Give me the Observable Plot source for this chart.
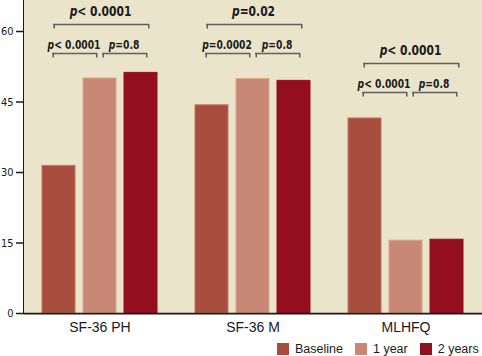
<!DOCTYPE html>
<html><head><meta charset="utf-8">
<script src="https://cdn.jsdelivr.net/npm/d3@7"></script>
<script src="https://cdn.jsdelivr.net/npm/@observablehq/plot@0.6"></script>
<style>
body{margin:0;background:#fff;}
#wrap{position:relative;width:482px;height:356px;overflow:hidden;background:#fff;}
#bg{position:absolute;left:23px;top:0;width:459px;height:313px;background:#EAE4CA;}
#chart{position:absolute;left:0;top:0;}
#legend{position:absolute;left:277px;top:332px;width:260px;white-space:nowrap;}
</style></head><body><div id="wrap"><div id="bg"></div><div id="chart"></div><div id="legend"></div></div>
<script>
// ---- data ----
const groups = ["SF-36 PH", "SF-36 M", "MLHFQ"];
const series = ["Baseline", "1 year", "2 years"];
const baselineValues = [31.4, 44.3, 41.5];
const year1Values = [50.0, 49.9, 15.5];
const year2Values = [51.2, 49.5, 15.7];
const yTicks = [0, 15, 30, 45, 60];

const bracketGroup = ["SF-36 PH", "SF-36 PH", "SF-36 PH", "SF-36 M", "SF-36 M", "SF-36 M", "MLHFQ", "MLHFQ", "MLHFQ"];
const bracketKind = ["top", "left", "right", "top", "left", "right", "top", "left", "right"];
const bracketFrom = ["Baseline", "Baseline", "1 year", "Baseline", "Baseline", "1 year", "Baseline", "Baseline", "1 year"];
const bracketTo = ["2 years", "1 year", "2 years", "2 years", "1 year", "2 years", "2 years", "1 year", "2 years"];
const bracketLevel = [61.5, 55.3, 55.3, 61.5, 55.3, 55.3, 53.2, 47.0, 47.0];
const bracketLabel = ["p< 0.0001", "p< 0.0001", "p=0.8", "p=0.02", "p=0.0002", "p=0.8", "p< 0.0001", "p< 0.0001", "p=0.8"];

// ---- styles ----
const colors = ["#A84D3D", "#C88875", "#930F1F"];
const rims = ["#C27866", "#DBA692", "#930F1F"];
const kindStyle = {
  top: {l: 11, r: 8, k: 2, size: 14, gap: 8},
  left: {l: 10, r: 19, k: 1, size: 12, gap: 4.5},
  right: {l: 19, r: 10, k: 1, size: 12, gap: 4.5}
};
const groupShift = {"SF-36 PH": 0, "SF-36 M": 0, "MLHFQ": 4};
const halfBand = 16.5, step = 41, condense = 0.85;

const bars = [];
groups.forEach((g, i) => {
  bars.push({group: g, series: series[0], value: baselineValues[i]});
  bars.push({group: g, series: series[1], value: year1Values[i]});
  bars.push({group: g, series: series[2], value: year2Values[i]});
});
const brackets = bracketGroup.map((g, i) => ({
  group: g, kind: bracketKind[i], from: bracketFrom[i], to: bracketTo[i],
  level: bracketLevel[i], label: bracketLabel[i]
}));

const labelFont = "'DejaVu Sans Condensed', 'Liberation Sans Narrow', sans-serif";
const bracketMarks = [];
for (const kind of ["top", "left", "right"]) {
  for (const shift of [0, 4]) {
    const s = kindStyle[kind];
    const data = brackets.filter(d => d.kind === kind && groupShift[d.group] === shift);
    if (!data.length) continue;
    bracketMarks.push(
      Plot.ruleY(data, {fx: "group", x1: "from", x2: "to", y: "level", insetLeft: s.l, insetRight: s.r, dx: shift, stroke: "#5f5f5f", strokeWidth: 1.5}),
      Plot.ruleX(data, {fx: "group", x: "from", y1: "level", y2: "level", insetBottom: -4.5, dx: shift + s.l - halfBand + 0.75, stroke: "#5f5f5f", strokeWidth: 1.5}),
      Plot.ruleX(data, {fx: "group", x: "to", y1: "level", y2: "level", insetBottom: -4.5, dx: shift + halfBand - s.r - 0.75, stroke: "#5f5f5f", strokeWidth: 1.5}),
      Plot.text(data, {fx: "group", x: "from", y: "level", text: "label", lineAnchor: "bottom", dy: -s.gap,
        dx: shift + (step * s.k + s.l - s.r) / 2 - 1, fontSize: s.size, fontWeight: "bold", fontFamily: labelFont, fill: "#1a1a1a"})
    );
  }
}

const chart = Plot.plot({
  width: 482,
  height: 336,
  marginLeft: 23,
  marginRight: 0,
  marginTop: 0,
  marginBottom: 23,
  style: {background: "transparent", color: "#1a1a1a", fontFamily: "'Liberation Sans', Arial, sans-serif"},
  fx: {domain: groups, padding: 0, axis: "bottom", label: null, tickSize: 0, tickPadding: 9, fontSize: 14},
  x: {domain: series, paddingInner: 0.195, paddingOuter: 0.46, axis: null},
  y: {domain: [0, 66.6], ticks: yTicks, tickSize: 7, tickPadding: 3, label: null, line: true},
  color: {domain: series, range: colors},
  marks: [
    Plot.barY(bars, {fx: "group", x: "series", y: "value", fill: "series", stroke: d => rims[series.indexOf(d.series)], strokeWidth: 1}),
    Plot.ruleY([0], {stroke: "#1a1a1a", strokeWidth: 1.75}),
    ...bracketMarks
  ]
});
document.getElementById("chart").appendChild(chart);

// italic "p" in the p-value labels, condensed width
chart.querySelectorAll("text").forEach(t => {
  const s = t.textContent;
  if (/^p[<=]/.test(s) && t.children.length === 0) {
    t.textContent = "";
    const a = document.createElementNS("http://www.w3.org/2000/svg", "tspan");
    a.setAttribute("font-style", "italic");
    a.textContent = "p";
    const b = document.createElementNS("http://www.w3.org/2000/svg", "tspan");
    b.textContent = s.slice(1);
    t.appendChild(a); t.appendChild(b);
    const w = t.getComputedTextLength();
    t.setAttribute("textLength", (w * condense).toFixed(1));
    t.setAttribute("lengthAdjust", "spacingAndGlyphs");
  }
});
// y axis tick labels condensed, thicker axis line
chart.querySelectorAll("g[aria-label='y-axis tick label']").forEach(el => {
  el.setAttribute("font-family", labelFont);
  el.setAttribute("font-size", "11");
});
chart.querySelectorAll("g[aria-label='y-axis line'], g[aria-label='y-axis tick']").forEach(el => el.setAttribute("stroke-width", "1.5"));
chart.querySelectorAll("g[aria-label='fx-axis tick label']").forEach(el => el.setAttribute("font-size", "14"));

const legend = Plot.legend({
  color: {domain: series, range: colors},
  swatchSize: 12,
  style: {font: "12.5px 'Liberation Sans', Arial, sans-serif", color: "#1a1a1a"}
});
legend.querySelectorAll("span").forEach(sp => { sp.style.marginRight = "12px"; });
legend.querySelectorAll("svg").forEach(sv => { sv.style.marginRight = "6px"; });
document.getElementById("legend").appendChild(legend);
</script>
</body></html>
